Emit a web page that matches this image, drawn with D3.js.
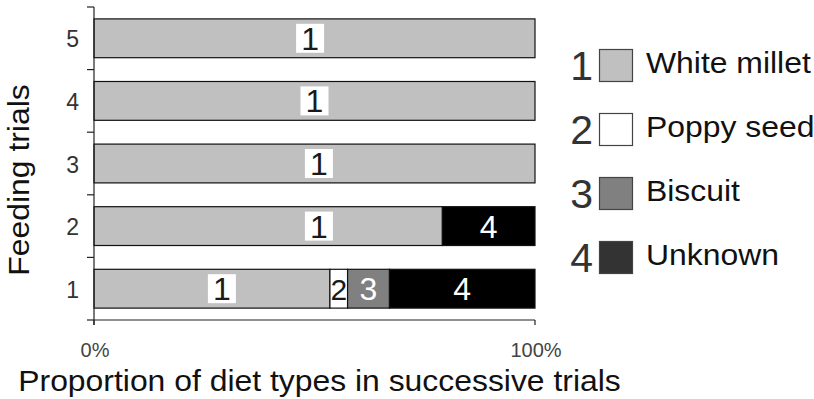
<!DOCTYPE html>
<html>
<head>
<meta charset="utf-8">
<script src="https://cdn.jsdelivr.net/npm/d3@7/dist/d3.min.js"></script>
<style>
  html, body { margin: 0; padding: 0; background: #fff; }
  svg { display: block; font-family: "Liberation Sans", Arial, sans-serif; }
</style>
</head>
<body>
<svg id="chart" width="814" height="399"></svg>
<script>
// Feeding trials, bottom (1) to top (5)
const trials = ["1", "2", "3", "4", "5"];

// Share of each diet type per trial, in percent
const whiteMillet = [53.5, 79, 100, 100, 100];
const poppySeed   = [4, 0, 0, 0, 0];
const biscuit     = [9.5, 0, 0, 0, 0];
const unknown     = [33, 21, 0, 0, 0];

// Diet type codes and names
const typeCodes = ["1", "2", "3", "4"];
const typeNames = ["White millet", "Poppy seed", "Biscuit", "Unknown"];

// Where the "1" label sits along each trial's bar, in percent
const milletLabelAt = [29, 51, 51, 50, 49];

const xTickValues = [0, 100];
const xTickLabels = ["0%", "100%"];

const xTitle = "Proportion of diet types in successive trials";
const yTitle = "Feeding trials";

// Styling
const barFill    = ["#c0c0c0", "#ffffff", "#808080", "#000000"];
const swatchFill = ["#c0c0c0", "#ffffff", "#808080", "#333333"];
const labelFill  = ["#1a1a1a", "#1a1a1a", "#ffffff", "#ffffff"];

const svg = d3.select("#chart");

const x = d3.scaleLinear().domain([0, 100]).range([94, 535]);
const y = d3.scaleBand()
  .domain(trials.slice().reverse())
  .range([7, 320])
  .paddingInner(0.38)
  .paddingOuter(0.19);

// Build stacked rows
const keys = ["t1", "t2", "t3", "t4"];
const rows = trials.map((t, i) => ({
  trial: t,
  t1: whiteMillet[i], t2: poppySeed[i], t3: biscuit[i], t4: unknown[i],
  labelAt: milletLabelAt[i]
}));
const series = d3.stack().keys(keys)(rows);

// Bars
const segs = svg.append("g");
series.forEach((s, k) => {
  s.forEach(d => {
    if (d[1] - d[0] <= 0) return;
    segs.append("rect")
      .attr("x", x(d[0]))
      .attr("y", y(d.data.trial))
      .attr("width", x(d[1]) - x(d[0]))
      .attr("height", y.bandwidth())
      .attr("fill", barFill[k])
      .attr("stroke", "#111")
      .attr("stroke-width", 1.2);
  });
});

// Segment labels
const labels = svg.append("g");
series.forEach((s, k) => {
  s.forEach(d => {
    if (d[1] - d[0] <= 0) return;
    const cy = y(d.data.trial) + y.bandwidth() / 2;
    const cx = k === 0 ? x(d.data.labelAt) : x((d[0] + d[1]) / 2);
    if (k === 0) {
      labels.append("rect")
        .attr("x", cx - 14).attr("y", cy - 14.5)
        .attr("width", 28).attr("height", 29)
        .attr("fill", "#fff");
    }
    labels.append("text")
      .attr("x", cx).attr("y", cy + 11.5)
      .attr("text-anchor", "middle")
      .attr("font-size", k === 1 ? 30 : 32)
      .attr("fill", labelFill[k])
      .text(typeCodes[k]);
  });
});

// Y axis: spine, band-boundary ticks, centred labels
const axis = svg.append("g").attr("stroke", "#222").attr("stroke-width", 1.2);
axis.append("line").attr("x1", 94).attr("x2", 94).attr("y1", 7).attr("y2", 325);
const bounds = d3.range(trials.length + 1).map(i => y.range()[0] + i * (y.range()[1] - y.range()[0]) / trials.length);
bounds.forEach(b => {
  axis.append("line").attr("x1", 87).attr("x2", 94).attr("y1", b).attr("y2", b);
});
svg.append("g").selectAll("text").data(trials).join("text")
  .attr("x", 79)
  .attr("y", d => y(d) + y.bandwidth() / 2 + 9)
  .attr("text-anchor", "end")
  .attr("font-size", 23)
  .attr("fill", "#333")
  .text(d => d);

// X axis
axis.append("line").attr("x1", 94).attr("x2", x(100)).attr("y1", 320).attr("y2", 320);
xTickValues.forEach(v => {
  axis.append("line").attr("x1", x(v)).attr("x2", x(v)).attr("y1", 320).attr("y2", 325);
});
svg.append("g").selectAll("text").data(xTickValues).join("text")
  .attr("x", d => x(d) + 1)
  .attr("y", 357)
  .attr("text-anchor", "middle")
  .attr("font-size", 20)
  .attr("fill", "#444")
  .text((d, i) => xTickLabels[i]);

// Axis titles (glyphs slightly widened along the reading direction)
svg.append("text")
  .attr("transform", "translate(319.5,391) scale(1.1,1)")
  .attr("text-anchor", "middle")
  .attr("font-size", 29)
  .attr("fill", "#111")
  .text(xTitle);

svg.append("text")
  .attr("transform", "translate(29,180) rotate(-90) scale(1.1,1)")
  .attr("text-anchor", "middle")
  .attr("font-size", 29)
  .attr("fill", "#111")
  .text(yTitle);

// Legend
const legend = svg.append("g");
const legendTop = 49, legendStep = 64;
typeNames.forEach((name, i) => {
  const top = legendTop + i * legendStep;
  legend.append("text")
    .attr("x", 593).attr("y", top + 31)
    .attr("text-anchor", "end")
    .attr("font-size", 41)
    .attr("fill", "#333")
    .text(typeCodes[i]);
  legend.append("rect")
    .attr("x", 599.5).attr("y", top + 0.5)
    .attr("width", 33).attr("height", 32)
    .attr("fill", swatchFill[i])
    .attr("stroke", "#444")
    .attr("stroke-width", 1.2);
  legend.append("text")
    .attr("transform", `translate(646,${top + 24}) scale(1.1,1)`)
    .attr("font-size", 29)
    .attr("fill", "#111")
    .text(name);
});
</script>
</body>
</html>
